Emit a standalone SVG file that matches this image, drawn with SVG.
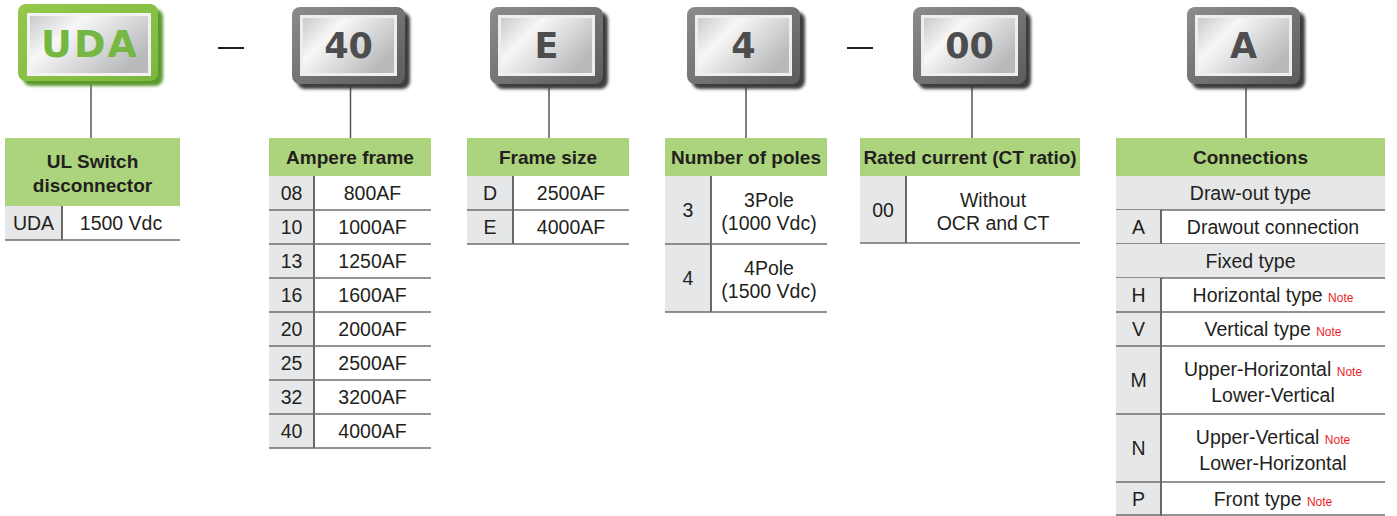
<svg xmlns="http://www.w3.org/2000/svg" width="1397" height="516" viewBox="0 0 1397 516">
<defs>
<linearGradient id="gface" x1="0" y1="0" x2="1" y2="1"><stop offset="0" stop-color="#8c8c8c"/><stop offset="1" stop-color="#5c5c5c"/></linearGradient>
<linearGradient id="panel" x1="0" y1="0" x2="1" y2="0.6"><stop offset="0" stop-color="#c9cacc"/><stop offset="0.35" stop-color="#f7f7f7"/><stop offset="1" stop-color="#b9babc"/></linearGradient>
<linearGradient id="greenface" x1="0" y1="0" x2="1" y2="1"><stop offset="0" stop-color="#94c94a"/><stop offset="1" stop-color="#7cb83e"/></linearGradient>
<filter id="sh" x="-10%" y="-10%" width="130%" height="130%"><feGaussianBlur stdDeviation="1.5"/></filter>
</defs>
<style>
.t{font-family:"Liberation Sans",Arial,sans-serif;font-size:19.5px;fill:#231f20;text-anchor:middle}
.h{font-family:"Liberation Sans",Arial,sans-serif;font-size:19px;font-weight:bold;fill:#231f20;text-anchor:middle}
.n{font-size:12px;fill:#ed1c24}
.hd{fill:#acd47c}
.gc{fill:#e6e7e8}
.rl{stroke:#6d6e71;stroke-width:1.5;fill:none}
.vl{stroke:#3a3a3a;stroke-width:1.5;fill:none}
.bx{font-family:"DejaVu Sans",sans-serif;font-weight:bold;font-size:35px;fill:#4d4d4f;text-anchor:middle}
.cn{stroke:#555;stroke-width:1.5;fill:none}
.dash{stroke:#231f20;stroke-width:2}
</style>

<g id="connectors">
<line class="cn" x1="91" y1="84" x2="91" y2="138"/>
<line class="cn" x1="350.5" y1="86" x2="350.5" y2="138"/>
<line class="cn" x1="549" y1="86" x2="549" y2="138"/>
<line class="cn" x1="746" y1="86" x2="746" y2="138"/>
<line class="cn" x1="972" y1="86" x2="972" y2="138"/>
<line class="cn" x1="1246" y1="86" x2="1246" y2="138"/>
<line class="dash" x1="218" y1="48" x2="244" y2="48"/>
<line class="dash" x1="847" y1="48" x2="873" y2="48"/>
</g>

<g id="box-uda">
<rect x="23" y="9" width="140" height="77" rx="8" fill="#5a9a2e" filter="url(#sh)"/>
<rect x="18" y="4" width="140" height="77" rx="8" fill="url(#greenface)"/>
<rect x="27" y="13" width="124" height="63" fill="#f2f2f2"/>
<rect x="30" y="16" width="118" height="57" fill="url(#panel)"/>
<text class="bx" x="90" y="57" style="font-size:38px;fill:#74b843;letter-spacing:2px">UDA</text>
</g>
<g id="box-40">
<rect x="297" y="12" width="113" height="77" rx="8" fill="#3c3c3c" filter="url(#sh)"/>
<rect x="292" y="7" width="113" height="77" rx="8" fill="url(#gface)"/>
<rect x="300" y="15" width="97" height="61" fill="#eeeeee"/>
<rect x="303" y="18" width="91" height="55" fill="url(#panel)"/>
<text class="bx" x="348.5" y="58">40</text>
</g>
<g id="box-e">
<rect x="495" y="12" width="113" height="77" rx="8" fill="#3c3c3c" filter="url(#sh)"/>
<rect x="490" y="7" width="113" height="77" rx="8" fill="url(#gface)"/>
<rect x="498" y="15" width="97" height="61" fill="#eeeeee"/>
<rect x="501" y="18" width="91" height="55" fill="url(#panel)"/>
<text class="bx" x="546.5" y="58">E</text>
</g>
<g id="box-4">
<rect x="692" y="12" width="113" height="77" rx="8" fill="#3c3c3c" filter="url(#sh)"/>
<rect x="687" y="7" width="113" height="77" rx="8" fill="url(#gface)"/>
<rect x="695" y="15" width="97" height="61" fill="#eeeeee"/>
<rect x="698" y="18" width="91" height="55" fill="url(#panel)"/>
<text class="bx" x="743.5" y="58">4</text>
</g>
<g id="box-00">
<rect x="918" y="12" width="113" height="77" rx="8" fill="#3c3c3c" filter="url(#sh)"/>
<rect x="913" y="7" width="113" height="77" rx="8" fill="url(#gface)"/>
<rect x="921" y="15" width="97" height="61" fill="#eeeeee"/>
<rect x="924" y="18" width="91" height="55" fill="url(#panel)"/>
<text class="bx" x="969.5" y="58">00</text>
</g>
<g id="box-a">
<rect x="1192" y="12" width="113" height="77" rx="8" fill="#3c3c3c" filter="url(#sh)"/>
<rect x="1187" y="7" width="113" height="77" rx="8" fill="url(#gface)"/>
<rect x="1195" y="15" width="97" height="61" fill="#eeeeee"/>
<rect x="1198" y="18" width="91" height="55" fill="url(#panel)"/>
<text class="bx" x="1243.5" y="58">A</text>
</g>

<g id="table-uda">
<rect class="hd" x="5" y="138" width="175" height="68"/>
<text class="h" x="92.5" y="168">UL Switch</text>
<text class="h" x="92.5" y="192">disconnector</text>
<rect class="gc" x="5" y="206" width="57" height="34"/>
<line class="vl" x1="62" y1="206" x2="62" y2="240"/>
<line class="rl" x1="5" y1="240" x2="180" y2="240"/>
<text class="t" x="33.5" y="230">UDA</text>
<text class="t" x="121" y="230">1500 Vdc</text>
</g>

<g id="table-ampere">
<rect class="hd" x="269" y="138" width="162" height="38"/>
<text class="h" x="350" y="164">Ampere frame</text>
<rect class="gc" x="269" y="176" width="45" height="272"/>
<line class="vl" x1="314" y1="176" x2="314" y2="448"/>
<line class="rl" x1="269" y1="210" x2="431" y2="210"/>
<line class="rl" x1="269" y1="244" x2="431" y2="244"/>
<line class="rl" x1="269" y1="278" x2="431" y2="278"/>
<line class="rl" x1="269" y1="312" x2="431" y2="312"/>
<line class="rl" x1="269" y1="346" x2="431" y2="346"/>
<line class="rl" x1="269" y1="380" x2="431" y2="380"/>
<line class="rl" x1="269" y1="414" x2="431" y2="414"/>
<line class="rl" x1="269" y1="448" x2="431" y2="448"/>
<text class="t" x="291.5" y="200">08</text><text class="t" x="372.5" y="200">800AF</text>
<text class="t" x="291.5" y="234">10</text><text class="t" x="372.5" y="234">1000AF</text>
<text class="t" x="291.5" y="268">13</text><text class="t" x="372.5" y="268">1250AF</text>
<text class="t" x="291.5" y="302">16</text><text class="t" x="372.5" y="302">1600AF</text>
<text class="t" x="291.5" y="336">20</text><text class="t" x="372.5" y="336">2000AF</text>
<text class="t" x="291.5" y="370">25</text><text class="t" x="372.5" y="370">2500AF</text>
<text class="t" x="291.5" y="404">32</text><text class="t" x="372.5" y="404">3200AF</text>
<text class="t" x="291.5" y="438">40</text><text class="t" x="372.5" y="438">4000AF</text>
</g>

<g id="table-frame">
<rect class="hd" x="467" y="138" width="162" height="38"/>
<text class="h" x="548" y="164">Frame size</text>
<rect class="gc" x="467" y="176" width="46" height="68"/>
<line class="vl" x1="513" y1="176" x2="513" y2="244"/>
<line class="rl" x1="467" y1="210" x2="629" y2="210"/>
<line class="rl" x1="467" y1="244" x2="629" y2="244"/>
<text class="t" x="490" y="200">D</text><text class="t" x="571" y="200">2500AF</text>
<text class="t" x="490" y="234">E</text><text class="t" x="571" y="234">4000AF</text>
</g>

<g id="table-poles">
<rect class="hd" x="665" y="138" width="162" height="38"/>
<text class="h" x="746" y="164">Number of poles</text>
<rect class="gc" x="665" y="176" width="46" height="136"/>
<line class="vl" x1="711" y1="176" x2="711" y2="312"/>
<line class="rl" x1="665" y1="244" x2="827" y2="244"/>
<line class="rl" x1="665" y1="312" x2="827" y2="312"/>
<text class="t" x="688" y="217">3</text>
<text class="t" x="769" y="207">3Pole</text>
<text class="t" x="769" y="230">(1000 Vdc)</text>
<text class="t" x="688" y="285">4</text>
<text class="t" x="769" y="275">4Pole</text>
<text class="t" x="769" y="298">(1500 Vdc)</text>
</g>

<g id="table-rated">
<rect class="hd" x="860" y="138" width="220" height="38"/>
<text class="h" x="970" y="164">Rated current (CT ratio)</text>
<rect class="gc" x="860" y="176" width="46" height="67"/>
<line class="vl" x1="906" y1="176" x2="906" y2="243"/>
<line class="rl" x1="860" y1="243" x2="1080" y2="243"/>
<text class="t" x="883" y="217">00</text>
<text class="t" x="993" y="207">Without</text>
<text class="t" x="993" y="230">OCR and CT</text>
</g>

<g id="table-connections">
<rect class="hd" x="1116" y="138" width="269" height="38"/>
<text class="h" x="1250.5" y="164">Connections</text>
<rect class="gc" x="1116" y="176" width="269" height="34"/>
<text class="t" x="1250.5" y="200">Draw-out type</text>
<line class="rl" x1="1116" y1="210" x2="1385" y2="210"/>
<rect class="gc" x="1116" y="210" width="45" height="34"/>
<line class="vl" x1="1161" y1="210" x2="1161" y2="244"/>
<text class="t" x="1138.5" y="234">A</text>
<text class="t" x="1273" y="234">Drawout connection</text>
<line class="rl" x1="1116" y1="244" x2="1385" y2="244"/>
<rect class="gc" x="1116" y="244" width="269" height="34"/>
<text class="t" x="1250.5" y="268">Fixed type</text>
<line class="rl" x1="1116" y1="278" x2="1385" y2="278"/>
<rect class="gc" x="1116" y="278" width="45" height="238"/>
<line class="vl" x1="1161" y1="278" x2="1161" y2="516"/>
<line class="rl" x1="1116" y1="312" x2="1385" y2="312"/>
<line class="rl" x1="1116" y1="346" x2="1385" y2="346"/>
<line class="rl" x1="1116" y1="414" x2="1385" y2="414"/>
<line class="rl" x1="1116" y1="482" x2="1385" y2="482"/>
<line class="rl" x1="1116" y1="515" x2="1385" y2="515"/>
<text class="t" x="1138.5" y="302">H</text>
<text class="t" x="1273" y="302">Horizontal type <tspan class="n">Note</tspan></text>
<text class="t" x="1138.5" y="336">V</text>
<text class="t" x="1273" y="336">Vertical type <tspan class="n">Note</tspan></text>
<text class="t" x="1138.5" y="387">M</text>
<text class="t" x="1273" y="376">Upper-Horizontal <tspan class="n">Note</tspan></text>
<text class="t" x="1273" y="402">Lower-Vertical</text>
<text class="t" x="1138.5" y="455">N</text>
<text class="t" x="1273" y="444">Upper-Vertical <tspan class="n">Note</tspan></text>
<text class="t" x="1273" y="470">Lower-Horizontal</text>
<text class="t" x="1138.5" y="506">P</text>
<text class="t" x="1273" y="506">Front type <tspan class="n">Note</tspan></text>
</g>
</svg>
